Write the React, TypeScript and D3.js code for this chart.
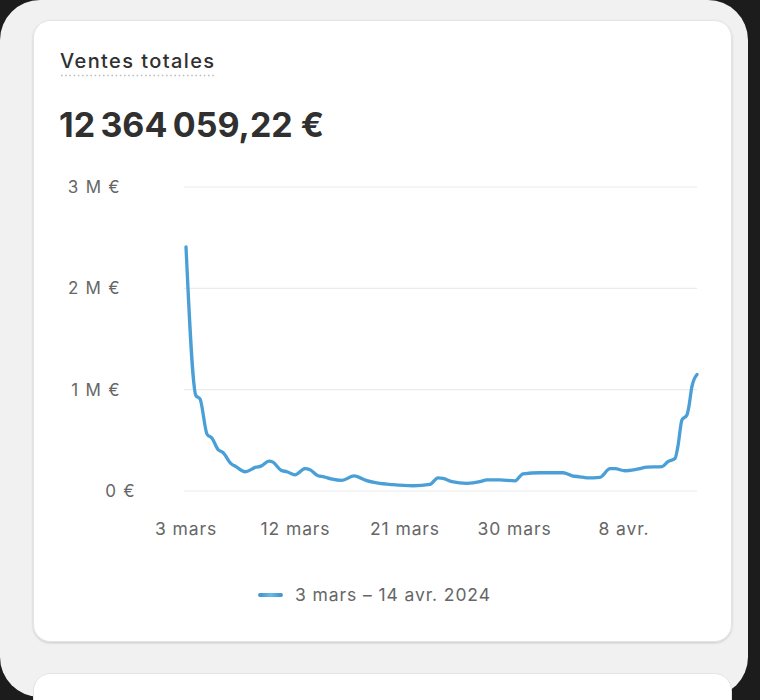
import React from "react";
import * as d3 from "d3";

// ---- data ----
// day offsets since 3 mars 2024 and total sales in €
const dayOffsets = [
  0, 0.82, 1.15, 1.73, 2.14, 2.63, 3.04, 3.7, 4.11, 4.85, 5.75, 6.16, 6.82, 7.15, 7.81, 8.3, 8.96,
  9.78, 10.19, 10.85, 11.34, 11.92, 12.82, 13.81, 14.14, 14.79, 15.7, 17.01, 18.66, 20.05, 20.71,
  21.12, 21.86, 23.1, 24.16, 24.74, 25.81, 27.04, 27.7, 29.1, 30.16, 30.99, 31.73, 32.38, 32.96,
  34.03, 34.85, 35.26, 36.08, 37.07, 37.89, 39.12, 39.61, 40.19, 40.43, 40.76, 41.17, 41.33, 41.58, 42,
];
const sales = [
  2410000, 940000, 910000, 560000, 520000, 410000, 380000, 270000, 240000, 190000, 235000, 245000,
  295000, 285000, 205000, 190000, 160000, 220000, 210000, 150000, 140000, 120000, 105000, 150000,
  140000, 105000, 80000, 62000, 52000, 65000, 130000, 125000, 92000, 76000, 92000, 110000, 110000,
  100000, 170000, 180000, 180000, 180000, 150000, 140000, 130000, 135000, 220000, 220000, 200000,
  215000, 235000, 240000, 290000, 320000, 440000, 700000, 750000, 830000, 1030000, 1150000,
];
const xTickDays = [0, 9, 18, 27, 36];
const xTickLabels = ["3 mars", "12 mars", "21 mars", "30 mars", "8 avr."];
const yTicks = [0, 1000000, 2000000, 3000000];
const yTickLabels = ["0\u00a0€", "1\u00a0M\u00a0€", "2\u00a0M\u00a0€", "3\u00a0M\u00a0€"];
const cardTitle = "Ventes totales";
const totalLabel = "12\u202f364\u202f059,22\u00a0€";
const legendLabel = "3 mars – 14 avr. 2024";

const FONT = "Inter, 'Noto Sans', sans-serif";

export default function App() {
  const x = d3.scaleLinear().domain([0, 42]).range([186, 697]);
  const y = d3.scaleLinear().domain([0, 3000000]).range([491, 187]);
  const pts: [number, number][] = dayOffsets.map((d, i) => [d, sales[i]]);
  const line = d3
    .line<[number, number]>()
    .x((d) => x(d[0]))
    .y((d) => y(d[1]))
    .curve(d3.curveMonotoneX);

  return (
    <>
      <style>{`body{margin:0;background:#1c1c1c}`}</style>
      <svg width={760} height={700} style={{ display: "block" }} fontFamily={FONT}>
        <defs>
          <filter id="sh" x="-5%" y="-5%" width="110%" height="110%">
            <feDropShadow dx="0" dy="1" stdDeviation="0.8" floodColor="#000" floodOpacity="0.18" />
          </filter>
          <linearGradient id="lg" gradientUnits="userSpaceOnUse" x1={258} x2={283} y1={0} y2={0}>
            <stop offset="0" stopColor="#3b8fca" />
            <stop offset="0.5" stopColor="#6cb8e6" />
            <stop offset="1" stopColor="#3b8fca" />
          </linearGradient>
        </defs>
        <rect x={0} y={0} width={760} height={700} fill="#1c1c1c" />
        <rect x={0} y={0} width={748} height={697} rx={40} fill="#f1f1f1" />
        {/* main card */}
        <rect x={33.5} y={20.5} width={698} height={621} rx={17} fill="#ffffff" stroke="#e4e4e4" filter="url(#sh)" />
        {/* next card */}
        <rect x={33.5} y={673.5} width={698} height={80} rx={17} fill="#ffffff" stroke="#e4e4e4" />

        <text x={60} y={68} fontSize={20} fontWeight={500} fill="#303030" letterSpacing={1.4}>
          {cardTitle}
        </text>
        <line x1={61} x2={216} y1={75.5} y2={75.5} stroke="#bdbdbd" strokeWidth={1.6} strokeDasharray="1.6 2.6" />
        <text x={59} y={137} fontSize={34} fontWeight={700} fill="#303030" letterSpacing={-0.15}>
          {totalLabel}
        </text>

        {/* grid + y labels */}
        {yTicks.map((t, i) => (
          <g key={t}>
            <line x1={184} x2={697} y1={y(t)} y2={y(t)} stroke="#ebebeb" strokeWidth={1.2} />
            <text
              x={t === 0 ? 136 : 121}
              y={y(t)}
              dy="0.35em"
              textAnchor="end"
              fontSize={17}
              fill="#666666"
              letterSpacing={1.3}
            >
              {yTickLabels[i]}
            </text>
          </g>
        ))}
        {/* x labels */}
        {xTickDays.map((d, i) => (
          <text key={d} x={x(d)} y={529} dy="0.35em" textAnchor="middle" fontSize={17.5} fill="#666666" letterSpacing={0.9}>
            {xTickLabels[i]}
          </text>
        ))}

        <path d={line(pts) || ""} fill="none" stroke="#4a9fd6" strokeWidth={3.3} strokeLinejoin="round" strokeLinecap="round" />

        {/* legend */}
        <line x1={260} x2={281} y1={595} y2={595} stroke="url(#lg)" strokeWidth={3.8} strokeLinecap="round" />
        <text x={295} y={595} dy="0.35em" fontSize={17.5} fill="#666666" letterSpacing={0.9}>
          {legendLabel}
        </text>
      </svg>
    </>
  );
}
